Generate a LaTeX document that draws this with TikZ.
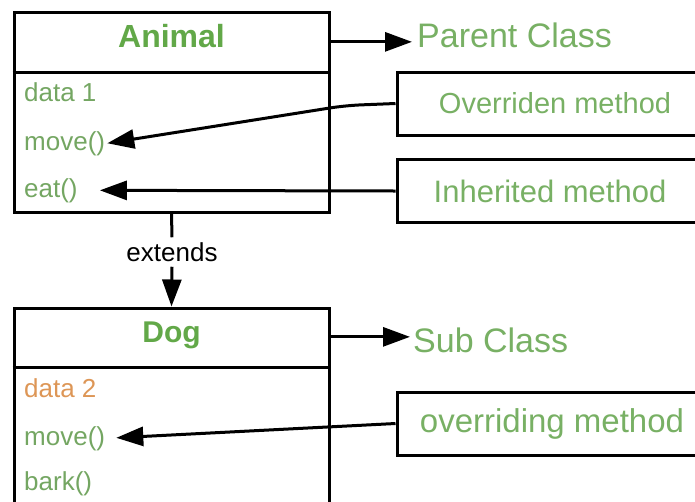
\documentclass[tikz,border=0pt]{standalone}
\usepackage{fontspec}
\setmainfont{Liberation Sans}
\usetikzlibrary{arrows.meta}
\definecolor{headgreen}{RGB}{98,168,72}
\definecolor{membergreen}{RGB}{116,166,98}
\definecolor{labelgreen}{RGB}{120,176,100}
\definecolor{dataorange}{RGB}{221,150,86}
\begin{document}
\begin{tikzpicture}[x=1pt,y=-1pt,
  classbox/.style={draw,line width=3pt,minimum width=315pt,inner sep=0pt},
  classname/.style={font=\fontsize{32pt}{36pt}\selectfont\bfseries,text=headgreen,anchor=base},
  member/.style={font=\fontsize{26pt}{30pt}\selectfont,text=membergreen,anchor=base west,inner sep=2pt},
  tag/.style={font=\fontsize{34pt}{38pt}\selectfont,text=labelgreen,anchor=base west,inner sep=0pt},
  notebox/.style={draw,line width=3pt,minimum height=63pt,inner sep=0pt,text=labelgreen},
  link/.style={line width=3pt,-{Triangle[length=27pt,width=19pt]}}]
\useasboundingbox (0,0) rectangle (695,501);
\clip (0,0) rectangle (695,501);

% Parent class
\node[classbox,minimum height=200pt] (animal) at (171.5,112) {};
\draw[line width=3pt] (animal.west |- 0,72) -- (animal.east |- 0,72);
\node[classname] (animalname) at (171.5,47) {Animal};
\node[member] (data1) at (22,101) {data 1};
\node[member] (move1) at (22,150) {move()};
\node[member] (eat1) at (22,197) {eat()};

% Inheritance link
\node[font=\fontsize{26pt}{30pt}\selectfont,inner sep=5pt] (extends) at (172,252) {extends};
\draw[line width=3pt] (animal.south) -- (extends.north);

% Sub class
\node[classbox,minimum height=222pt] (dog) at (171.5,419) {};
\draw[link] (extends.south) -- (dog.north);
\draw[line width=3pt] (dog.west |- 0,367) -- (dog.east |- 0,367);
\node[classname,font=\fontsize{30pt}{34pt}\selectfont\bfseries] (dogname) at (171.5,342) {Dog};
\node[member,text=dataorange] (data2) at (22,397) {data 2};
\node[member] (move2) at (22,445) {move()};
\node[member] (bark2) at (22,490) {bark()};

% Class tags
\node[tag] (parent) at (417,47) {Parent Class};
\coordinate (parentend) at ([yshift=-7pt]parent.west);
\draw[link,shorten >=5pt] (animal.east |- parentend) -- (parentend);
\node[tag] (sub) at (413,352) {Sub Class};
\coordinate (subend) at ([yshift=3pt]sub.west);
\draw[link,shorten >=3pt] (dog.east |- subend) -- (subend);

% Method notes
\node[notebox,minimum width=316pt,font=\fontsize{29pt}{33pt}\selectfont] (overriden) at (555,103.5) {Overriden method};
\draw[link,rounded corners=15pt] (overriden.west) -- ++(-50,2) -- (move1.east);
\node[notebox,minimum width=306pt,font=\fontsize{31pt}{35pt}\selectfont] (inherited) at (550,191) {Inherited method};
\draw[link,shorten >=20pt] (inherited.west) -- (eat1.east);
\node[notebox,minimum width=310pt,font=\fontsize{33pt}{37pt}\selectfont] (overriding) at (552,423.5) {overriding method};
\draw[link,shorten >=9pt] (overriding.west) -- (move2.east);
\end{tikzpicture}
\end{document}
